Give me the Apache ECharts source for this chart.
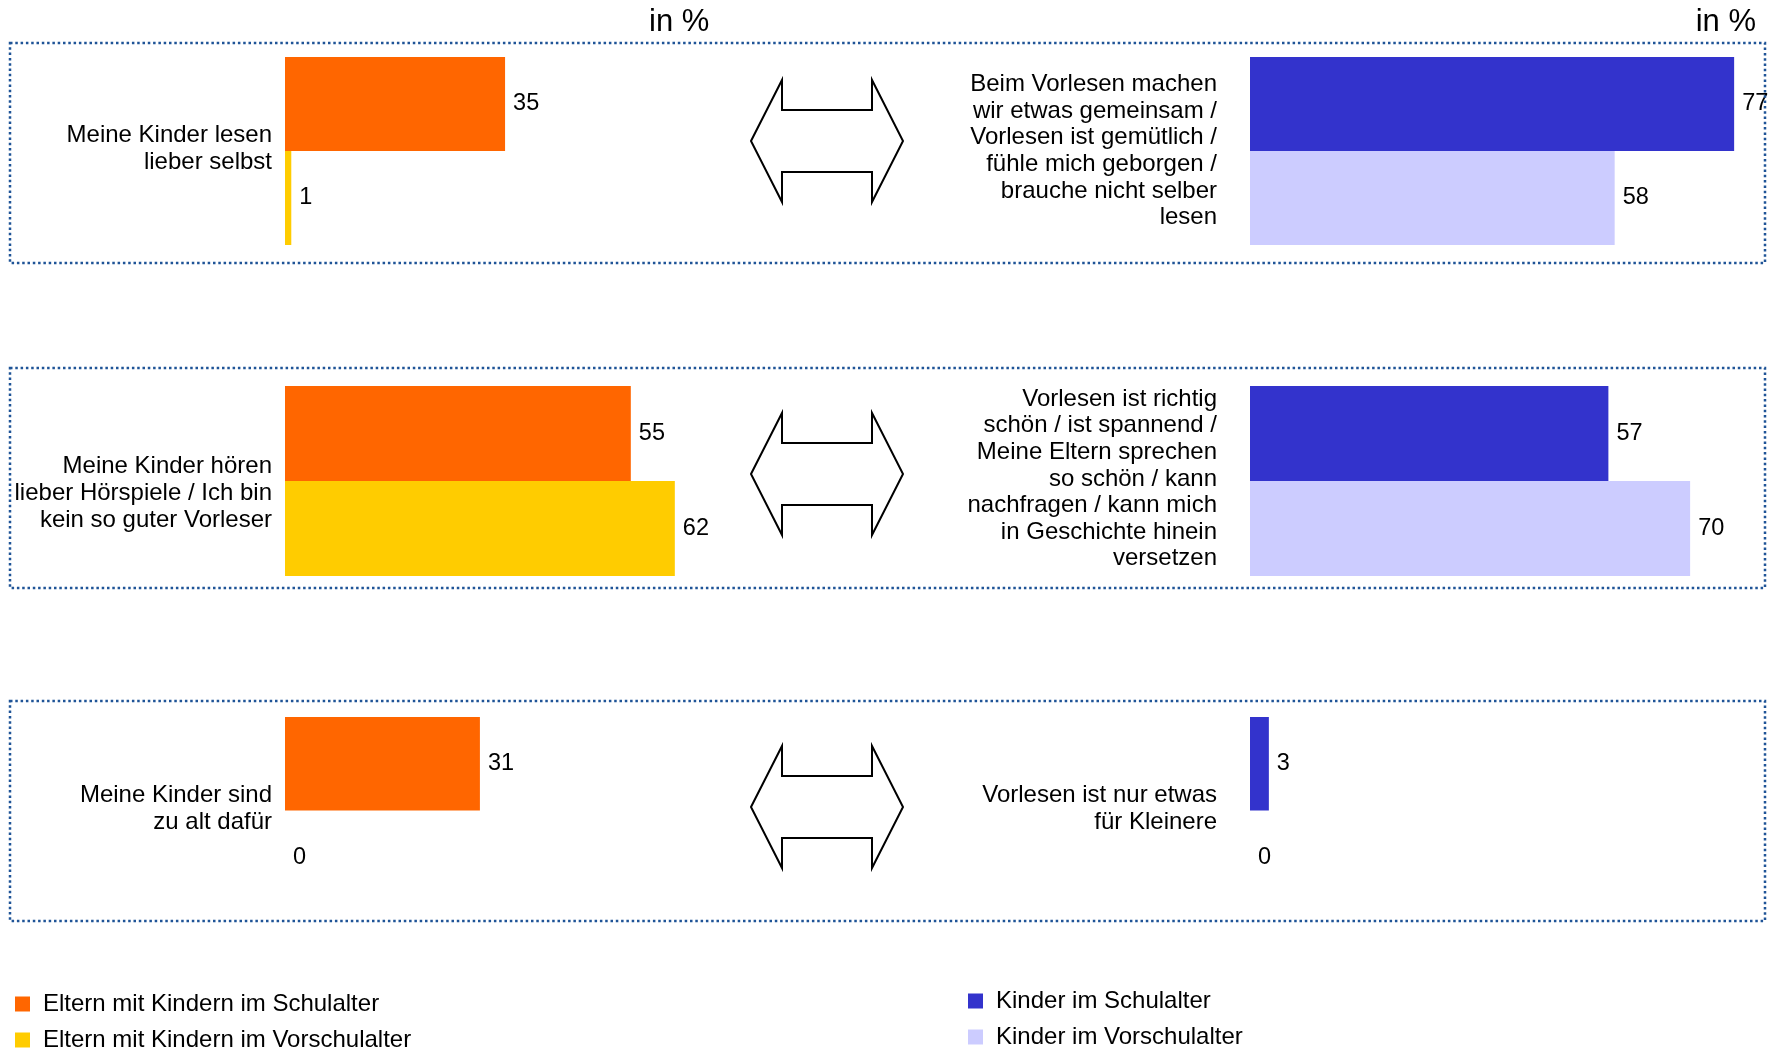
<!DOCTYPE html>
<html>
<head>
<meta charset="utf-8">
<script src="https://cdn.jsdelivr.net/npm/echarts@6/dist/echarts.min.js"></script>
<style>
html,body{margin:0;padding:0;background:#fff;}
#chart{width:1776px;height:1056px;}
</style>
</head>
<body>
<div id="chart"></div>
<script>
// ---- data ----
const ageGroups = ['Schulalter', 'Vorschulalter'];
const statementsParents = [
  'Meine Kinder lesen\nlieber selbst',
  'Meine Kinder hören\nlieber Hörspiele / Ich bin\nkein so guter Vorleser',
  'Meine Kinder sind\nzu alt dafür'
];
const statementsKids = [
  'Beim Vorlesen machen\nwir etwas gemeinsam /\nVorlesen ist gemütlich /\nfühle mich geborgen /\nbrauche nicht selber\nlesen',
  'Vorlesen ist richtig\nschön / ist spannend /\nMeine Eltern sprechen\nso schön / kann\nnachfragen / kann mich\nin Geschichte hinein\nversetzen',
  'Vorlesen ist nur etwas\nfür Kleinere'
];
const parentsSchool = [35, 55, 31];
const parentsPreschool = [1, 62, 0];
const kidsSchool = [77, 57, 3];
const kidsPreschool = [58, 70, 0];
const seriesNames = [
  'Eltern mit Kindern im Schulalter',
  'Eltern mit Kindern im Vorschulalter',
  'Kinder im Schulalter',
  'Kinder im Vorschulalter'
];
const unitLabel = 'in %';

// ---- layout / style ----
const FONT = '"Liberation Sans", Arial, Helvetica, sans-serif';
const colors = ['#FF6600', '#FFCC00', '#3333CC', '#CCCCFF'];
const rowTop = [57, 386, 717];
const rowHeight = [188, 190, 187];
const boxes = [[43, 263], [368, 588], [701, 921]];
const arrowCy = [141, 474, 807];
const leftTextCy = [149, 493, 809];
const rightTextCy = [151, 479, 809];

const grids = [], xAxes = [], yAxes = [], series = [];
const labelStyle = {show: true, position: 'right', distance: 8, color: '#000', fontSize: 23.5, fontFamily: FONT};

for (let i = 0; i < 3; i++) {
  [[285, parentsSchool, parentsPreschool, 0], [1250, kidsSchool, kidsPreschool, 2]].forEach(([left, a, b, ci]) => {
    const gi = grids.length;
    grids.push({left: left, top: rowTop[i], width: 503, height: rowHeight[i], containLabel: false});
    xAxes.push({type: 'value', gridIndex: gi, min: 0, max: 80, show: false});
    yAxes.push({type: 'category', gridIndex: gi, data: ageGroups, inverse: true, show: false});
    series.push({
      name: seriesNames[ci], type: 'bar', xAxisIndex: gi, yAxisIndex: gi, stack: 'g' + gi,
      barCategoryGap: 0, data: [a[i], '-'], itemStyle: {color: colors[ci]}, label: labelStyle
    });
    series.push({
      name: seriesNames[ci + 1], type: 'bar', xAxisIndex: gi, yAxisIndex: gi, stack: 'g' + gi,
      barCategoryGap: 0, data: ['-', b[i]], itemStyle: {color: colors[ci + 1]}, label: labelStyle
    });
  });
}

const graphic = [];
boxes.forEach(([t, b]) => {
  graphic.push({type: 'rect', z: 10, shape: {x: 10, y: t, width: 1755, height: b - t},
    style: {fill: 'none', stroke: '#1F5497', lineWidth: 2.5, lineDash: [2.5, 2.8]}});
});
arrowCy.forEach(cy => {
  const pts = [[751, cy], [782, cy - 61], [782, cy - 31], [872, cy - 31], [872, cy - 61], [903, cy],
               [872, cy + 61], [872, cy + 31], [782, cy + 31], [782, cy + 61]];
  graphic.push({type: 'polygon', shape: {points: pts}, style: {fill: '#fff', stroke: '#000', lineWidth: 2}});
});
statementsParents.forEach((s, i) => {
  graphic.push({type: 'text', x: 272, y: leftTextCy[i], style: {text: s, fill: '#000', fontSize: 24, fontFamily: FONT,
    lineHeight: 27, align: 'right', verticalAlign: 'middle'}});
});
statementsKids.forEach((s, i) => {
  graphic.push({type: 'text', x: 1217, y: rightTextCy[i], style: {text: s, fill: '#000', fontSize: 24, fontFamily: FONT,
    lineHeight: 26.6, align: 'right', verticalAlign: 'middle'}});
});
graphic.push({type: 'text', x: 649, y: 22, style: {text: unitLabel, fill: '#000', fontSize: 31, fontFamily: FONT, align: 'left', verticalAlign: 'middle'}});
graphic.push({type: 'text', x: 1756, y: 22, style: {text: unitLabel, fill: '#000', fontSize: 31, fontFamily: FONT, align: 'right', verticalAlign: 'middle'}});

const legendText = {fontSize: 24, color: '#000', fontFamily: FONT, lineHeight: 23, padding: [0, 0, 0, 8]};
const option = {
  animation: false,
  backgroundColor: '#fff',
  grid: grids, xAxis: xAxes, yAxis: yAxes, series: series,
  legend: [
    {left: 15, top: 992, padding: 0, orient: 'vertical', data: seriesNames.slice(0, 2), icon: 'rect', itemWidth: 15, itemHeight: 15, itemGap: 12, textStyle: legendText},
    {left: 968, top: 989, padding: 0, orient: 'vertical', data: seriesNames.slice(2, 4), icon: 'rect', itemWidth: 15, itemHeight: 15, itemGap: 12, textStyle: legendText}
  ],
  graphic: graphic
};
const chart = echarts.init(document.getElementById('chart'));
chart.setOption(option);
</script>
</body>
</html>
